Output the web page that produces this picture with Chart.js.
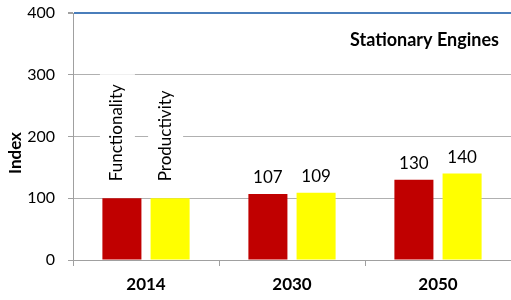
<!DOCTYPE html>
<html>
<head>
<meta charset="utf-8">
<script src="https://cdn.jsdelivr.net/npm/chart.js@4/dist/chart.umd.min.js"></script>
<style>
  html, body { margin: 0; padding: 0; background: #fff; }
  canvas { display: block; }
</style>
</head>
<body>
<canvas id="chart" width="511" height="300"></canvas>
<script>
// dados
const anos = ["2014", "2030", "2050"];
const funcionalidade = [100, 107, 130];
const produtividade = [100, 109, 140];
const nomesSeries = ["Functionality", "Productivity"];
const ticksY = [0, 100, 200, 300, 400];
const tituloGrafico = "Stationary Engines";
const tituloEixoY = "Index";

const FONTE = "Lato, 'Liberation Sans', sans-serif";

// rótulos: nome da série (rotacionado) no 1º ano, valor nos demais
const rotulosPlugin = {
  id: "rotulos",
  afterDatasetsDraw(chart) {
    const ctx = chart.ctx;
    ctx.save();
    chart.data.datasets.forEach((ds, i) => {
      const meta = chart.getDatasetMeta(i);
      meta.data.forEach((bar, j) => {
        if (j === 0) {
          ctx.save();
          ctx.font = "17px " + FONTE;
          const w = ctx.measureText(ds.label).width;
          const x = bar.x - 5;
          const yBase = bar.y - 17;
          ctx.fillStyle = "#fff";
          ctx.fillRect(x - 17, yBase - w - 10, 35, w + 14);
          ctx.translate(x, yBase);
          ctx.rotate(-Math.PI / 2);
          ctx.fillStyle = "#000";
          ctx.textAlign = "left";
          ctx.textBaseline = "middle";
          ctx.fillText(ds.label, 0, 0);
          ctx.restore();
        } else {
          ctx.font = "17px " + FONTE;
          ctx.fillStyle = "#000";
          ctx.textAlign = "center";
          ctx.textBaseline = "alphabetic";
          ctx.fillText(String(ds.data[j]), bar.x, bar.y - 11);
        }
      });
    });
    // título dentro da área do gráfico
    ctx.font = "bold 18px " + FONTE;
    ctx.fillStyle = "#000";
    ctx.textAlign = "right";
    ctx.textBaseline = "middle";
    ctx.fillText(tituloGrafico, 499, 40);
    // título do eixo Y
    ctx.translate(16, 153);
    ctx.rotate(-Math.PI / 2);
    ctx.font = "bold 17px " + FONTE;
    ctx.textAlign = "center";
    ctx.fillText(tituloEixoY, 0, 0);
    ctx.restore();
  },
};

new Chart(document.querySelector("#chart"), {
  type: "bar",
  data: {
    labels: anos,
    datasets: [
      {
        label: nomesSeries[0],
        data: funcionalidade,
        backgroundColor: "#c00000",
        categoryPercentage: 0.66,
        barPercentage: 0.81,
      },
      {
        label: nomesSeries[1],
        data: produtividade,
        backgroundColor: "#ffff00",
        categoryPercentage: 0.66,
        barPercentage: 0.81,
      },
    ],
  },
  options: {
    responsive: false,
    animation: false,
    devicePixelRatio: 1,
    layout: { padding: { top: 13, right: 0, left: 0, bottom: 0 } },
    plugins: {
      legend: { display: false },
      tooltip: { enabled: false },
    },
    scales: {
      x: {
        grid: {
          drawOnChartArea: false,
          drawTicks: true,
          tickLength: 6,
          color: "#a0a0a0",
        },
        border: { color: "#a0a0a0" },
        ticks: {
          color: "#000",
          font: { family: FONTE, size: 17, weight: "bold" },
          padding: 8,
        },
        afterFit(s) { s.height = 40; },
      },
      y: {
        min: 0,
        max: 400,
        afterBuildTicks(s) { s.ticks = ticksY.map((v) => ({ value: v })); },
        grid: {
          color: (c) => (c.tick && c.tick.value === 400 ? "#4a7ebb" : "#b0b0b0"),
          tickColor: "#a0a0a0",
          tickLength: 5,
          lineWidth: (c) => (c.tick && c.tick.value === 400 ? 2 : 1),
        },
        border: { color: "#a0a0a0" },
        ticks: {
          color: "#000",
          font: { family: FONTE, size: 16 },
          padding: 13,
        },
        afterFit(s) {
          s.width = 73;
          s.paddingTop = 0;
          s.paddingBottom = 0;
        },
      },
    },
  },
  plugins: [rotulosPlugin],
});
</script>
</body>
</html>
